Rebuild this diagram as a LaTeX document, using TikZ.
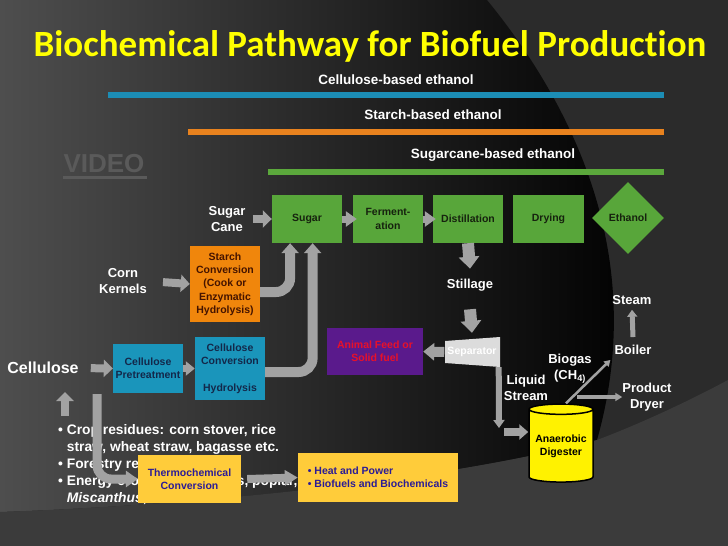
\documentclass[tikz,border=0pt]{standalone}
\usepackage{fontspec}
\setmainfont{Liberation Sans}
\newfontfamily\titlefont[Ligatures=NoCommon]{Carlito}
\usepackage{tikz}
\usetikzlibrary{calc, positioning, arrows.meta, shapes.geometric}
\definecolor{bgbase}{HTML}{2B2B2B}
\definecolor{bgleft}{HTML}{4E4E4E}
\definecolor{bgmid}{HTML}{161616}
\definecolor{bglow}{HTML}{3B3B3B}
\definecolor{ttl}{HTML}{FFFF00}
\definecolor{cblue}{HTML}{1C8DB5}
\definecolor{corange}{HTML}{E8821E}
\definecolor{cgreen}{HTML}{5BA83C}
\definecolor{grn}{HTML}{58A63A}
\definecolor{org}{HTML}{F0860C}
\definecolor{blu}{HTML}{1A95BB}
\definecolor{pur}{HTML}{5A1A8C}
\definecolor{ylw}{HTML}{FFCC3A}
\definecolor{gtxt}{HTML}{16220E}
\definecolor{btxt}{HTML}{13284A}
\definecolor{otxt}{HTML}{451400}
\definecolor{ytxt}{HTML}{2B1B96}
\definecolor{rtxt}{HTML}{E8102A}
\definecolor{agray}{HTML}{A2A2A2}
\definecolor{sepfill}{HTML}{DCDCDC}
\definecolor{wmark}{HTML}{5A5A5A}
\tikzstyle{lbl}=[text=white, align=center, inner sep=0pt, font=\bfseries\fontsize{13}{15.5}\selectfont]
\tikzstyle{boxtxt}=[align=center, inner sep=0pt, font=\bfseries\fontsize{10.5}{13.3}\selectfont]
\tikzstyle{gbox}=[boxtxt, fill=grn, text=gtxt, minimum width=70pt, minimum height=48pt]
\tikzstyle{obox}=[boxtxt, fill=org, text=otxt, minimum width=70pt, minimum height=76pt]
\tikzstyle{cbox}=[boxtxt, fill=blu, text=btxt, minimum width=70pt]
\tikzstyle{ybox}=[boxtxt, fill=ylw, text=ytxt, minimum height=48pt]
\tikzstyle{bar}=[line width=5.5pt]
\tikzstyle{fatarr}=[draw=agray, line width=8pt, -{Triangle[length=9pt,width=17pt]}]
\tikzstyle{tinyarr}=[draw=agray, line width=7pt, -{Triangle[length=11pt,width=15pt]}]
\tikzstyle{bandarr}=[draw=agray, line width=10pt, rounded corners=14pt, -{Triangle[length=10pt,width=17pt]}]
\tikzstyle{droparr}=[draw=agray, line width=12pt, -{Triangle[length=12pt,width=20pt]}]
\tikzstyle{liqarr}=[draw=agray, line width=6pt, -{Triangle[length=8pt,width=11pt]}]
\tikzstyle{gasarr}=[draw=agray, line width=2.5pt, -{Triangle[length=6pt,width=7pt]}]
\tikzset{>=stealth}

\begin{document}
\begin{tikzpicture}[x=1pt, y=-1pt]
\useasboundingbox (0,0) rectangle (728,546);
% the slide background
\fill[bgbase] (0,0) rectangle (728,546);
\shade[left color=bgleft, middle color=bgmid, right color=black] (0,0) -- (487,0) .. controls (585,120) and (645,270) .. (597,440) .. controls (450,480) and (200,505) .. (0,512) -- cycle;
\fill[bglow] (0,512) .. controls (200,505) and (450,480) .. (597,440) .. controls (650,420) and (700,395) .. (728,380) -- (728,546) -- (0,546) -- cycle;
% the title and the three pathways
\node[text=ttl, inner sep=0pt, font=\titlefont\bfseries\fontsize{37}{40}\selectfont] (title) at (370,46) {Biochemical Pathway for Biofuel Production};
\node[lbl, font=\bfseries\fontsize{13.5}{15.5}\selectfont] (cel-path) at (396,80) {Cellulose-based ethanol};
\node[lbl, font=\bfseries\fontsize{13.5}{15.5}\selectfont] (sta-path) at (433,115) {Starch-based ethanol};
\node[lbl, font=\bfseries\fontsize{13.5}{15.5}\selectfont] (cane-path) at (493,155) {Sugarcane-based ethanol};
\draw[bar, cblue] (108,95) -- (664,95);
\draw[bar, corange] (188,132) -- (664,132);
\draw[bar, cgreen] (268,172) -- (664,172);
\node[text=wmark, inner sep=0pt, font=\bfseries\fontsize{26}{28}\selectfont] (video) at (104,164) {VIDEO};
\draw[wmark, line width=2.5pt] (video.south west) ++(0,4) -- ++(84,0);
% the ethanol line
\node[gbox] (sugar) at (307,219) {Sugar};
\node[gbox] (ferm) at (388,219) {Ferment-\\ation};
\node[gbox] (dist) at (468,219) {Distillation};
\node[gbox, minimum width=71pt] (dry) at (548.5,219) {Drying};
\node[boxtxt, diamond, fill=grn, text=gtxt, minimum width=72pt, minimum height=72pt] (eth) at (628,218) {Ethanol};
% feedstocks
\node[lbl] (cane) at (227,219) {Sugar\\Cane};
\node[lbl] (corn) at (123,281) {Corn\\Kernels};
\node[lbl, font=\bfseries\fontsize{16}{18}\selectfont] (cel) at (43,368) {Cellulose};
\node[obox] (starch) at (225,284) {Starch\\Conversion\\(Cook or\\Enzymatic\\Hydrolysis)};
\node[cbox, minimum height=49pt] (pretreat) at (148,368.5) {Cellulose\\Pretreatment};
\node[cbox, minimum height=63pt] (convC) at (230,368.5) {Cellulose\\Conversion\\[13pt]Hydrolysis};
% crops list and thermochemical route
\node[lbl, anchor=north west, align=left, font=\bfseries\fontsize{13.8}{17}\selectfont] (crops) at (58,424) {%
\textbullet\ Crop residues: corn stover, rice\\
\phantom{\textbullet\ }straw, wheat straw, bagasse etc.\\
\textbullet\ Forestry residues\\
\textbullet\ Energy crops: switchgrass, poplar,\\
\phantom{\textbullet\ }\textit{Miscanthus}, willow};
\node[ybox, minimum width=103pt] (thermo) at (189.5,479) {Thermochemical\\Conversion};
\node[ybox, minimum width=160pt, minimum height=49pt, align=left] (heat) at (378,477.5) {\textbullet\ Heat and Power\\\textbullet\ Biofuels and Biochemicals};
\coordinate (split) at (97,394);
\coordinate (up0) at (65,416);
\coordinate (up1) at (65,392);
% stillage side
\node[lbl] (still) at (470,285) {Stillage};
\node[boxtxt, fill=pur, text=rtxt, minimum width=96pt, minimum height=47pt] (animal) at (375,351.5) {Animal Feed or\\Solid fuel};
\coordinate (sepc) at (472,352);
\fill[sepfill] ($(sepc)+(-27,-11)$) -- ($(sepc)+(28,-15)$) -- ($(sepc)+(28,15)$) -- ($(sepc)+(-27,11)$) -- cycle;
\node[boxtxt, text=white, minimum width=55pt, minimum height=30pt] (sep) at (sepc) {Separator};
\node[lbl] (liq) at (526,388) {Liquid\\Stream};
\node[boxtxt, cylinder, shape border rotate=90, aspect=0.2, draw=black, line width=1.5pt, fill=yellow, text=black, minimum width=64pt, minimum height=78pt] (dig) at (561,446) {Anaerobic\\Digester};
\node[lbl] (gas) at (570,369) {Biogas\\(CH\textsubscript{4)}};
\node[lbl] (boiler) at (633,350) {Boiler};
\node[lbl] (steam) at (632,300) {Steam};
\node[lbl] (prod) at (647,397) {Product\\Dryer};
\coordinate (liqend) at (499,428);
\coordinate (liqturn) at (504,432);
\coordinate (prod0) at (577,397);
% the arrows
\draw[fatarr] (cane.east) ++(7,0) -- (sugar.west);
\draw[tinyarr, shorten >=-4pt] (sugar.east) -- (ferm.west);
\draw[tinyarr, shorten >=-3pt] (ferm.east) -- (dist.west);
\draw[fatarr, shorten <=16pt] (corn.east) -- (starch.west);
\draw[fatarr, shorten <=12pt] (cel.east) -- (pretreat.west);
\draw[fatarr, line width=7pt, -{Triangle[length=9pt,width=14pt]}] (pretreat.east) -- (convC.west);
\draw[bandarr] ([yshift=-8pt]starch.east) -| ($(sugar.south west)!0.26!(sugar.south east)$);
\draw[bandarr] ([yshift=-3.5pt]convC.east) -| ($(sugar.south west)!0.58!(sugar.south east)$);
\draw[fatarr] (up0) -- (up1);
\draw[bandarr, line width=9pt, -{Triangle[length=12pt,width=16pt]}] (split) |- (thermo.west);
\draw[fatarr, -{Triangle[length=13pt,width=15pt]}] ([xshift=6pt]thermo.east) -- (heat.west);
\draw[droparr] (dist.south) -- ([yshift=10pt]still.north);
\draw[droparr] ([yshift=-18pt]still.south) -- ([yshift=4pt]sep.north);
\draw[fatarr, line width=10pt, -{Triangle[length=11pt,width=17pt]}] (sep.west) -- (animal.east);
\draw[liqarr] ([xshift=-1pt]sep.south east) -- (liqend);
\draw[fatarr, line width=8pt, -{Triangle[length=9pt,width=15pt]}] (liqturn) -- (liqturn -| dig.west);
\draw[gasarr] ([xshift=5pt]dig.north) -- ([xshift=-4pt,yshift=-5pt]boiler.south west);
\draw[gasarr, line width=3.5pt, -{Triangle[length=7pt,width=8pt]}] (prod0) -- (prod.west);
\draw[gasarr, line width=5pt, -{Triangle[length=7pt,width=10pt]}] ([yshift=8pt]boiler.north) -- ([yshift=-5pt]steam.south);
\end{tikzpicture}
\end{document}
